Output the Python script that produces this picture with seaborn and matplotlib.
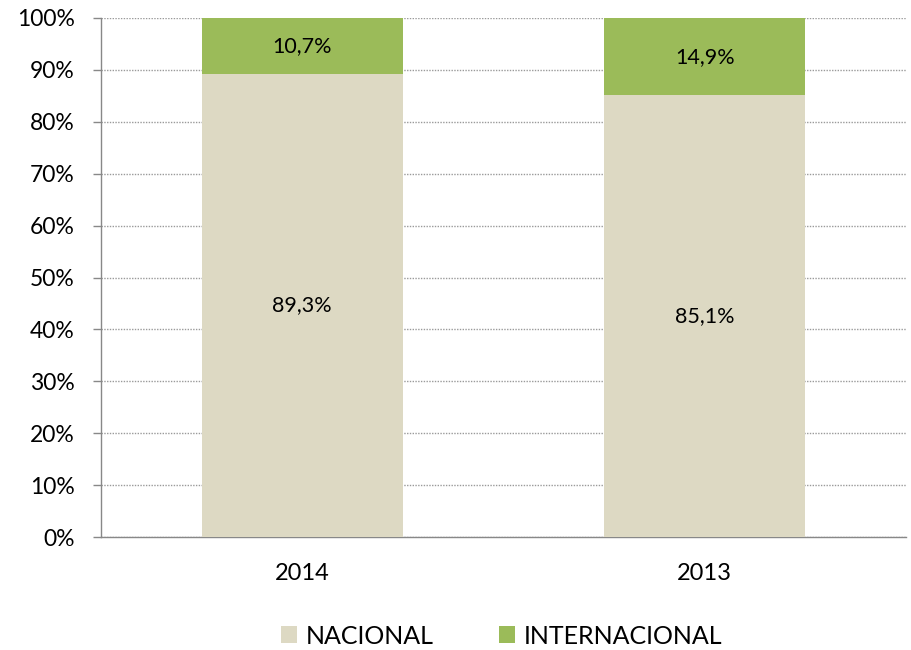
import matplotlib
matplotlib.use("Agg")
import matplotlib.pyplot as plt
import seaborn as sns
import pandas as pd
from matplotlib.patches import Patch
from matplotlib.ticker import FixedLocator

years = ["2014", "2013"]
nacional = [89.3, 85.1]
internacional = [10.7, 14.9]
nac_labels = ["89,3%", "85,1%"]
int_labels = ["10,7%", "14,9%"]
yticks = [0, 10, 20, 30, 40, 50, 60, 70, 80, 90, 100]

c_nac = "#DDD9C3"
c_int = "#9BBB59"

sns.set_theme(style="white")
plt.rcParams["font.family"] = ["Lato", "DejaVu Sans"]
plt.rcParams["text.color"] = "#000000"

df = pd.DataFrame({"year": years, "nacional": nacional, "internacional": internacional})
df["total"] = df["nacional"] + df["internacional"]

fig = plt.figure(figsize=(9.12, 6.5), dpi=100)
ax = fig.add_axes([101/912, 1-537/650, (906-101)/912, (537-18)/650])

sns.barplot(data=df, x="year", y="total", order=years, color=c_int, width=0.5,
            saturation=1, ax=ax, zorder=3, linewidth=0, edgecolor="none")
sns.barplot(data=df, x="year", y="nacional", order=years, color=c_nac, width=0.5,
            saturation=1, ax=ax, zorder=3, linewidth=0, edgecolor="none")

for i in range(len(years)):
    ax.text(i, nacional[i] / 2, nac_labels[i], ha="center", va="center", fontsize=15.5, color="#000000", zorder=4)
    ax.text(i, nacional[i] + internacional[i] / 2, int_labels[i], ha="center", va="center", fontsize=15.5, color="#000000", zorder=4)

ax.set_xlim(-0.5, 1.5)
ax.set_ylim(0, 100)
ax.set_yticks(yticks)
ax.set_yticklabels([f"{v}%" for v in yticks], fontsize=16.5)
ax.yaxis.grid(True, linestyle=(0, (1, 1)), color="#9a9a9a", linewidth=1, zorder=0)
ax.set_axisbelow(True)
ax.set_xlabel("")
ax.set_ylabel("")
ax.tick_params(axis="x", which="major", length=0, labelsize=17, pad=19, labelcolor="#000000")
ax.xaxis.set_minor_locator(FixedLocator([-0.5, 0.5, 1.5]))
ax.tick_params(axis="x", which="minor", length=6, color="#888888", direction="out", width=1)
ax.tick_params(axis="y", length=6, color="#888888", direction="out", width=1, left=True, pad=13,
               labelcolor="#000000")
for s in ["top", "right"]:
    ax.spines[s].set_visible(False)
for s in ["left", "bottom"]:
    ax.spines[s].set_color("#888888")
    ax.spines[s].set_linewidth(1)

handles = [Patch(facecolor=c_nac, edgecolor="none", label="NACIONAL"),
           Patch(facecolor=c_int, edgecolor="none", label="INTERNACIONAL")]
leg = fig.legend(handles=handles, loc="center", bbox_to_anchor=(502/912, 1-636/650), ncol=2,
                 frameon=False, fontsize=18, handlelength=0.64, handleheight=0.64,
                 handletextpad=0.36, columnspacing=2.6)
for t in leg.get_texts():
    t.set_color("#000000")

fig.savefig("out.png", dpi=100)
